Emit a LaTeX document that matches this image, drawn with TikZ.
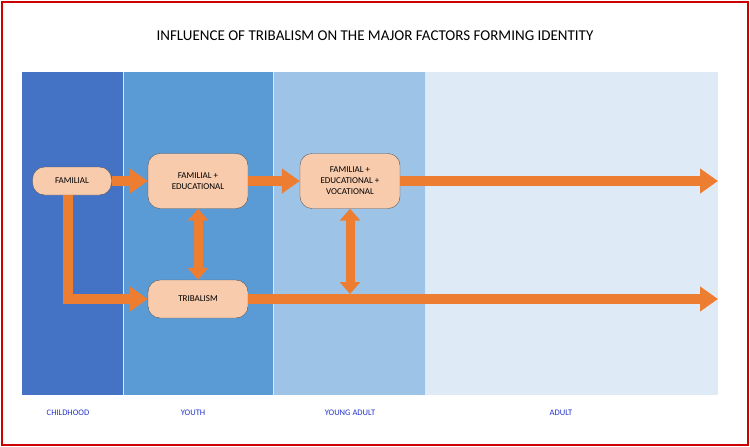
\documentclass[tikz,border=0pt]{standalone}
\usepackage{fontspec}
\setmainfont{Carlito}
\usetikzlibrary{arrows.meta}
\definecolor{cA}{HTML}{4472C4}
\definecolor{cB}{HTML}{5B9BD5}
\definecolor{cC}{HTML}{9DC3E6}
\definecolor{cD}{HTML}{DEEBF7}
\definecolor{nodefill}{HTML}{F8CBAD}
\definecolor{arr}{HTML}{ED7D31}
\definecolor{arrdark}{HTML}{C55A11}
\definecolor{lab}{HTML}{2233CC}
\tikzset{
 box/.style={draw=gray!70!black, fill=nodefill, rounded corners=12pt, align=center, font=\fontsize{9}{11}\selectfont, inner sep=2pt},
 fat/.style={draw=arrdark, line width=10pt, -{Triangle[width=24pt,length=18pt]}, color=arr},
 fatboth/.style={color=arr, line width=9pt, {Triangle[width=20pt,length=12pt]}-{Triangle[width=20pt,length=12pt]}},
 band/.style={font=\fontsize{8.5}{10}\selectfont, text=lab}
}
\begin{document}
\begin{tikzpicture}[x=1pt,y=-1pt]
\useasboundingbox (0,0) rectangle (750,447);
\draw[red!80!black, line width=1.5pt] (2,2) rectangle (748,445);
\node[font=\fontsize{15}{18}\selectfont] (title) at (375,36) {INFLUENCE OF TRIBALISM ON THE MAJOR FACTORS FORMING IDENTITY};
\fill[cD] (425,72) rectangle (718,395);
\fill[cC] (273,72) rectangle (425,395);
\fill[cB] (123,72) rectangle (273,395);
\fill[cA] (22,72) rectangle (123,395);
\draw[white!80!gray, line width=0.4pt] (123,72)--(123,395) (273,72)--(273,395) (425,72)--(425,395);
\node[band] (l1) at (68,413) {CHILDHOOD};
\node[band] (l2) at (193,413) {YOUTH};
\node[band] (l3) at (350,413) {YOUNG ADULT};
\node[band] (l4) at (561,413) {ADULT};
\node[box, minimum width=79pt, minimum height=28pt] (fam) at (72,181) {FAMILIAL};
\node[box, minimum width=100pt, minimum height=55pt] (fe) at (198,181) {FAMILIAL +\\EDUCATIONAL};
\node[box, minimum width=100pt, minimum height=55pt] (fev) at (350,181) {FAMILIAL +\\EDUCATIONAL +\\VOCATIONAL};
\node[box, minimum width=100pt, minimum height=38pt] (tri) at (198,299) {TRIBALISM};
\coordinate (e1) at (718,181);
\coordinate (e2) at (718,299);
\coordinate (bend) at (68,299);
\coordinate (m) at (350,294);
\draw[fat] (fam.east) -- (fe.west);
\draw[fat] (fe.east) -- (fev.west);
\draw[fat] (fev.east) -- (e1);
\draw[fat] (tri.east) -- (e2);
\draw[fat] (fam.south -| bend) -- (bend) -- (tri.west);
\draw[fatboth] (fe.south) -- (tri.north);
\draw[fatboth] (fev.south) -- (m);
\end{tikzpicture}
\end{document}
